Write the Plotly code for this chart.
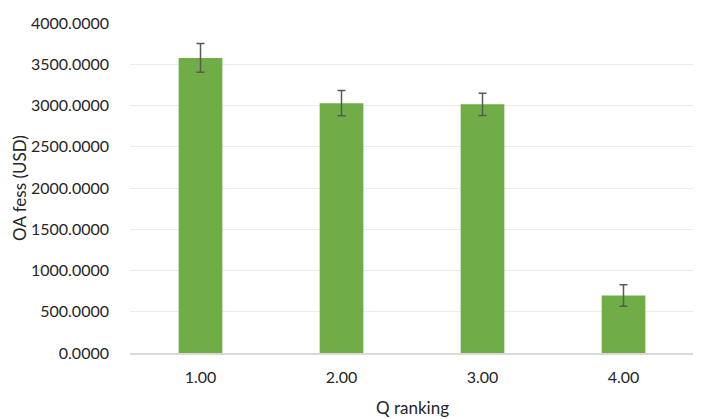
import plotly.graph_objects as go

categories = ["1.00", "2.00", "3.00", "4.00"]
fees = [3577, 3028, 3014, 697]
errors = [175, 153, 136, 129]
y_ticks = [0, 500, 1000, 1500, 2000, 2500, 3000, 3500, 4000]
y_tick_labels = [f"{v:.4f}" for v in y_ticks]

fig = go.Figure(
    go.Bar(
        x=categories,
        y=fees,
        width=0.31,
        marker=dict(color="#70AD47", line=dict(width=0)),
        error_y=dict(type="data", array=errors, visible=True,
                     color="#595959", thickness=1.5, width=4),
    )
)

font_family = "Lato, 'Open Sans', sans-serif"
fig.update_layout(
    width=693, height=411,
    margin=dict(l=122, r=7, t=15, b=66, autoexpand=False),
    paper_bgcolor="white", plot_bgcolor="white",
    font=dict(family=font_family, size=16, color="#262626"),
    showlegend=False,
    annotations=[
        dict(text="OA fess (USD)", xref="paper", yref="paper",
             x=-0.197, y=0.5, xanchor="center", yanchor="middle",
             textangle=-90, showarrow=False, font=dict(size=17)),
        dict(text="Q ranking", xref="paper", yref="paper",
             x=0.5, y=-0.164, xanchor="center", yanchor="middle",
             showarrow=False, font=dict(size=17)),
    ],
)
fig.update_yaxes(
    range=[0, 4000], automargin=False,
    tickvals=y_ticks, ticktext=y_tick_labels,
    showgrid=True, gridcolor="#EBEBEB", gridwidth=1,
    zeroline=False, showline=False,
    ticks="", ticklabelstandoff=20,
)
fig.update_xaxes(
    automargin=False,
    showline=True, linecolor="#D9D9D9", linewidth=1.5,
    showgrid=False, ticks="", ticklabelstandoff=9,
)
fig.write_html("out.html")
